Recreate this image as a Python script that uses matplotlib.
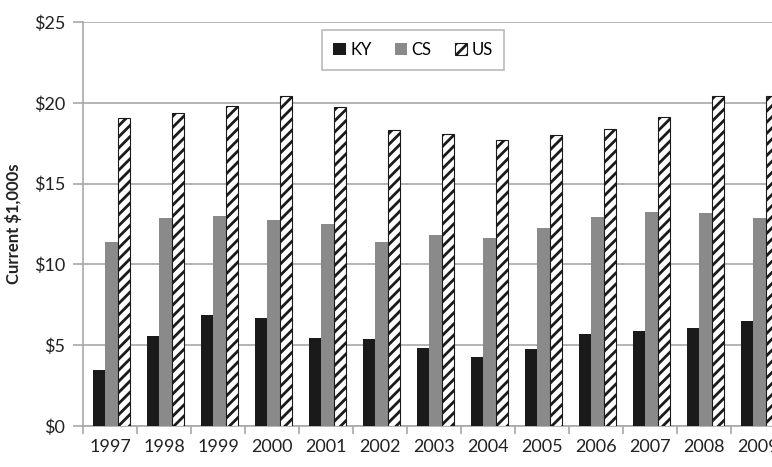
import matplotlib.pyplot as plt
import numpy as np

plt.rcParams['font.family'] = ['Lato', 'DejaVu Sans']
plt.rcParams['hatch.linewidth'] = 2.0

years = ['1997', '1998', '1999', '2000', '2001', '2002', '2003',
         '2004', '2005', '2006', '2007', '2008', '2009']
ky = [3.45, 5.6, 6.85, 6.7, 5.45, 5.4, 4.8, 4.3, 4.75, 5.7, 5.9, 6.05, 6.5]
cs = [11.4, 12.9, 13.0, 12.75, 12.5, 11.4, 11.8, 11.65, 12.25, 12.95, 13.25, 13.15, 12.85]
us = [19.05, 19.35, 19.8, 20.4, 19.75, 18.3, 18.1, 17.7, 18.0, 18.35, 19.1, 20.45, 20.4]

fig = plt.figure(figsize=(7.72, 4.67), dpi=100)
# axes runs past the right edge, like the clipped original
ax = fig.add_axes([83 / 772, 41 / 467, 702 / 772, 404 / 467])

x = np.arange(len(years))
w = 0.23
ax.bar(x - w + 0.03, ky, w, color='#1a1a1a', label='KY', zorder=3)
ax.bar(x + 0.03, cs, w, color='#8a8a8a', label='CS', zorder=3)
ax.bar(x + w + 0.03, us, w, color='white', edgecolor='#1a1a1a', hatch='///',
       linewidth=0.8, label='US', zorder=3)

ax.set_xlim(-0.5, len(years) - 0.5)
ax.set_ylim(0, 25)
ax.set_yticks(range(0, 26, 5))
ax.set_yticklabels(['$%d' % v for v in range(0, 26, 5)])
ax.yaxis.grid(True, color='#a8a8a8', linewidth=1.2, zorder=0)

ax.set_xticks(x)
ax.set_xticklabels(years)
ax.set_xticks(np.arange(-0.5, len(years), 1), minor=True)
ax.tick_params(axis='x', which='major', length=0, pad=9, labelsize=13, colors='#222222')
ax.tick_params(axis='x', which='minor', length=6, width=1.2, color='#a8a8a8')
ax.tick_params(axis='y', length=7, width=1.2, color='#a8a8a8', labelsize=13,
               labelcolor='#222222', pad=6)

for s in ['top', 'right']:
    ax.spines[s].set_visible(False)
for s in ['left', 'bottom']:
    ax.spines[s].set_color('#a8a8a8')
    ax.spines[s].set_linewidth(1.2)

ax.set_ylabel('Current $1,000s', fontsize=12, fontweight='bold', color='#222222', labelpad=8)

leg = fig.legend(loc='center', bbox_to_anchor=(413 / 772, 1 - 50 / 467), ncol=3,
                 fontsize=12, frameon=True, fancybox=False, handlelength=0.75,
                 handleheight=0.75, handletextpad=0.25, columnspacing=1.4,
                 borderpad=0.7, edgecolor='#a8a8a8', borderaxespad=0)
leg.get_frame().set_linewidth(1.2)
leg.set_zorder(5)

fig.savefig('out.png', dpi=100)
